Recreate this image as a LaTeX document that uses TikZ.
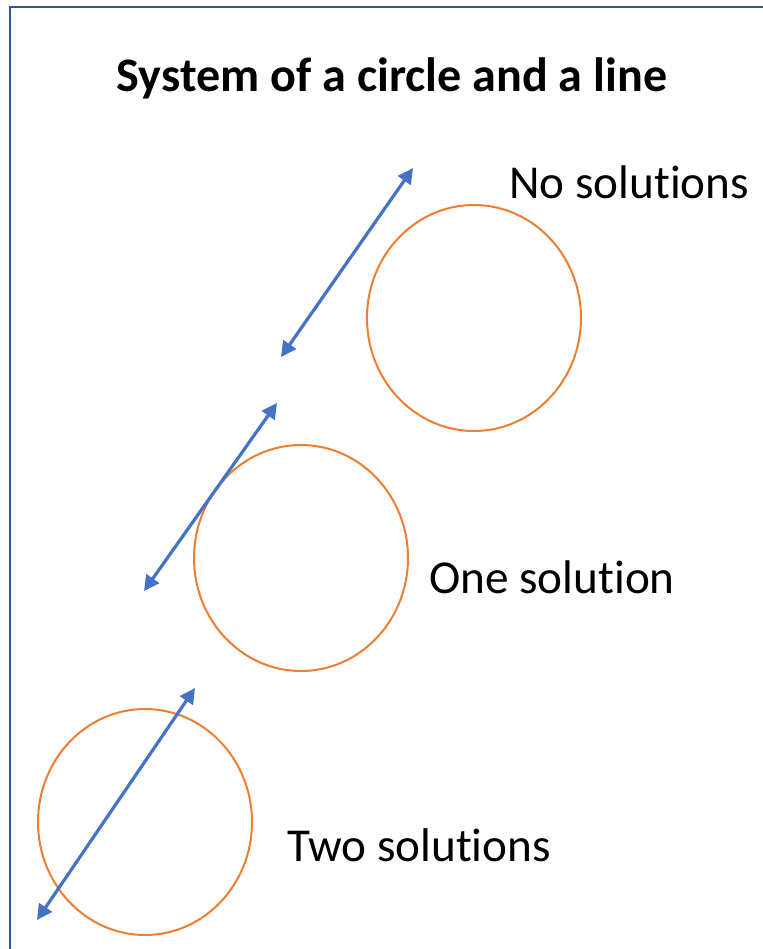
\documentclass[tikz,border=0pt]{standalone}
\usepackage{fontspec}
\setmainfont{Carlito}[RawFeature=-liga]
\usetikzlibrary{arrows.meta,shapes.geometric}
\definecolor{frameBlue}{HTML}{2F5597}
\definecolor{lineBlue}{HTML}{4472C4}
\definecolor{circOrange}{HTML}{ED7D31}
\tikzset{
  circ/.style={draw=circOrange,line width=1.5pt,ellipse,
               minimum width=160.5pt,minimum height=169.5pt,inner sep=0pt},
  dline/.style={{Triangle[length=11.5pt,width=11.5pt]}-{Triangle[length=11.5pt,width=11.5pt]},
                line width=2.4pt,lineBlue},
  lbl/.style={anchor=base west,inner sep=0pt,font=\fontsize{35.4}{42}\selectfont}
}
\begin{document}
\begin{tikzpicture}[x=0.75pt,y=-0.75pt]
  \useasboundingbox (0,0) rectangle (763,949);
  % frame
  \draw[frameBlue,line width=2pt] (10,952) -- (10,7) -- (766,7);
  % title
  \node[anchor=base,inner sep=0pt,font=\fontsize{36.1}{43}\selectfont\bfseries] (title) at (392,92) {System of a circle and a line};
  % circles
  \node[circ] (cnone) at (474,318) {};
  \node[circ] (cone) at (301,558) {};
  \node[circ] (ctwo) at (145,822) {};
  % lines
  \coordinate (n1) at (281,357);
  \coordinate (n2) at (413,168);
  \coordinate (o1) at (144,591);
  \coordinate (o2) at (277,403);
  \coordinate (t1) at (37,920);
  \coordinate (t2) at (195,688);
  \draw[dline] (n1) -- (n2);
  \draw[dline] (o1) -- (o2);
  \draw[dline] (t1) -- (t2);
  % labels
  \node[lbl] (lnone) at (509,198) {No solutions};
  \node[lbl] (lone) at (429,593) {One solution};
  \node[lbl] (ltwo) at (287,861) {Two solutions};
\end{tikzpicture}
\end{document}
